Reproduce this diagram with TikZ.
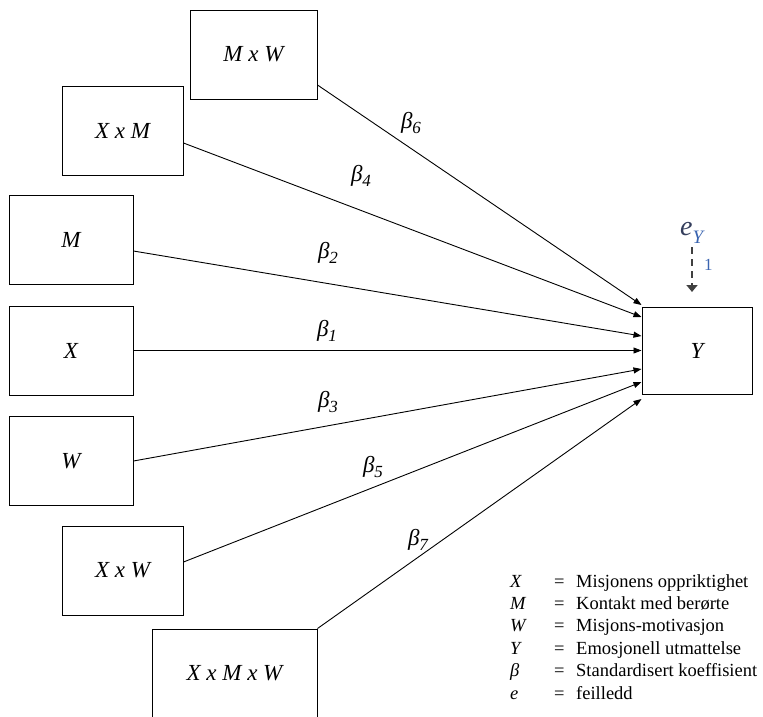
\documentclass[tikz,border=0pt]{standalone}
\usepackage{fontspec}
\setmainfont{Liberation Serif}
\usetikzlibrary{arrows.meta}

\definecolor{errgray}{RGB}{52,62,92}
\definecolor{errblue}{RGB}{58,100,176}
\definecolor{errline}{RGB}{64,64,64}

% standardised coefficient with its index
\newcommand{\bcoef}[1]{{\fontsize{23}{25}\selectfont\itshape β\raisebox{-5pt}{\fontsize{17}{19}\selectfont #1}}}

\begin{document}
\begin{tikzpicture}[x=1pt,y=-1pt,
  var/.style={draw,line width=1pt,inner sep=0pt,minimum height=89pt,
    font=\fontsize{23}{26}\selectfont\itshape},
  effect/.style={line width=0.9pt,-{Triangle[length=8pt,width=6pt]}},
  coef/.style={inner sep=0pt},
  leg/.style={inner sep=0pt,anchor=base west,font=\fontsize{18.5}{22}\selectfont}]

  \useasboundingbox (0,0) rectangle (763,716);
  \clip (0,0) rectangle (763,716);

  % Predictors and interaction terms
  \node[var,minimum width=127pt] (MW) at (253.5,54.5) {M x W};
  \node[var,minimum width=121pt] (XM) at (122.5,130.5) {X x M};
  \node[var,minimum width=124pt] (M) at (71,240) {M};
  \node[var,minimum width=124pt] (X) at (71,350.5) {X};
  \node[var,minimum width=124pt] (W) at (71,461) {W};
  \node[var,minimum width=121pt] (XW) at (122.5,570.5) {X x W};
  \node[var,minimum width=165pt] (XMW) at (234.5,673.5) {X x M x W};

  % Outcome
  \node[var,minimum width=110pt,minimum height=87pt] (Y) at (697,350.5) {Y};

  % Where the paths meet the outcome box
  \coordinate (in6) at ([yshift=45.5pt]Y.west);
  \coordinate (in4) at ([yshift=33.5pt]Y.west);
  \coordinate (in2) at ([yshift=14.5pt]Y.west);
  \coordinate (in1) at (Y.west);
  \coordinate (in3) at ([yshift=-18.5pt]Y.west);
  \coordinate (in5) at ([yshift=-31.5pt]Y.west);
  \coordinate (in7) at ([yshift=-48.5pt]Y.west);

  % Paths
  \draw[effect] ([yshift=-30.5pt]MW.east) -- (in6);
  \draw[effect] ([yshift=-12.5pt]XM.east) -- (in4);
  \draw[effect] ([yshift=-11pt]M.east) -- (in2);
  \draw[effect] (X.east) -- (in1);
  \draw[effect] (W.east) -- (in3);
  \draw[effect] ([yshift=8.5pt]XW.east) -- (in5);
  \draw[effect] (XMW.north east) -- (in7);

  % Coefficients
  \node[coef] (b6) at (411,123) {\bcoef{6}};
  \node[coef] (b4) at (361,176) {\bcoef{4}};
  \node[coef] (b2) at (328,253) {\bcoef{2}};
  \node[coef] (b1) at (327,331) {\bcoef{1}};
  \node[coef] (b3) at (328,402) {\bcoef{3}};
  \node[coef] (b5) at (373,467) {\bcoef{5}};
  \node[coef] (b7) at (418,540) {\bcoef{7}};

  % Error term
  \node[inner sep=0pt,anchor=base west] (eY) at (680,235)
    {{\fontsize{28}{30}\selectfont\itshape\color{errgray}e}\raisebox{-8pt}{\fontsize{19}{20}\selectfont\itshape\color{errblue}Y}};
  \coordinate (eYtip) at (692,292);
  \draw[line width=2.6pt,errline,dash pattern=on 7pt off 5pt,shorten <=4pt,
    -{Triangle[length=7pt,width=11pt]}] (eY.south -| eYtip) -- (eYtip);
  \node[inner sep=0pt,anchor=base west,errblue,font=\fontsize{17}{18}\selectfont] (one) at (704,270) {1};

  % Legend
  \foreach \s/\t [count=\i] in {X/Misjonens oppriktighet, M/Kontakt med berørte,
      W/Misjons-motivasjon, Y/Emosjonell utmattelse,
      β/Standardisert koeffisient, e/feilledd} {
    \node[leg] (sym\i) at (510,{587+22.4*(\i-1)}) {\itshape\s};
    \node[leg] (eq\i) at (554,{587+22.4*(\i-1)}) {=};
    \node[leg] (txt\i) at (576,{587+22.4*(\i-1)}) {\t};
  }

\end{tikzpicture}
\end{document}
